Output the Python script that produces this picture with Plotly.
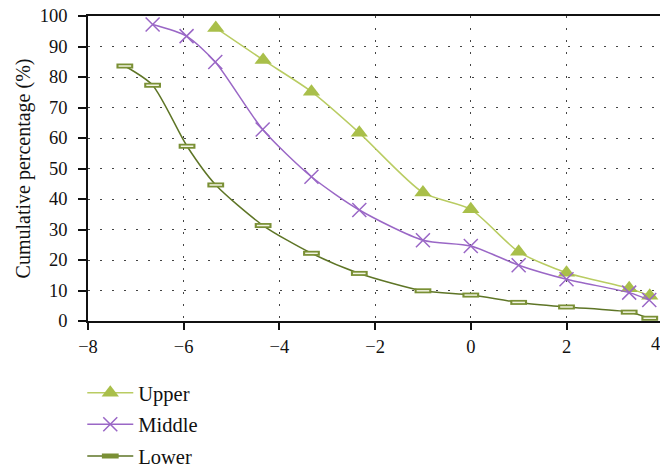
import plotly.graph_objects as go

# ---- data ----
upper_x = [-5.33, -4.34, -3.33, -2.33, -1.0, 0.0, 1.0, 2.0, 3.31, 3.74]
upper_y = [96.1, 85.6, 75.2, 61.7, 42.1, 36.6, 22.7, 15.8, 10.7, 8.3]

middle_x = [-6.65, -5.94, -5.34, -4.35, -3.33, -2.33, -1.0, 0.0, 1.0, 2.0, 3.31, 3.73]
middle_y = [97.2, 93.4, 84.9, 62.8, 47.3, 36.4, 26.5, 24.6, 18.3, 13.7, 9.3, 6.9]

lower_x = [-7.23, -6.65, -5.93, -5.33, -4.34, -3.33, -2.33, -1.0, 0.0, 1.0, 2.0, 3.31, 3.74]
lower_y = [83.6, 77.3, 57.3, 44.6, 31.3, 22.2, 15.6, 9.9, 8.5, 6.1, 4.6, 2.9, 0.9]

x_ticks = [-8, -6, -4, -2, 0, 2, 4]
y_ticks = [0, 10, 20, 30, 40, 50, 60, 70, 80, 90, 100]

FONT = "Liberation Serif"
C_UP_LINE = "#b9cc62"
C_UP_MK = "#a9bf4a"
C_MID = "#9a67c6"
C_LOW = "#5e7526"
C_LOW_MK = "#7a9035"

fig = go.Figure()

fig.add_trace(go.Scatter(
    x=upper_x, y=upper_y, name="Upper", mode="lines+markers",
    line=dict(color=C_UP_LINE, width=1.5, shape="spline", smoothing=0.7),
    marker=dict(symbol="triangle-up", size=15, color=C_UP_MK),
    legendgroup="u", cliponaxis=False,
))
fig.add_trace(go.Scatter(
    x=middle_x, y=middle_y, name="Middle", mode="lines+markers",
    line=dict(color=C_MID, width=1.5, shape="spline", smoothing=0.7),
    marker=dict(symbol="x-thin", size=14, line=dict(color=C_MID, width=1.5)),
    legendgroup="m", cliponaxis=False,
))
fig.add_trace(go.Scatter(
    x=lower_x, y=lower_y, name="Lower", mode="lines+markers",
    line=dict(color=C_LOW, width=1.5, shape="spline", smoothing=0.7),
    marker=dict(symbol="line-ew", size=12, line=dict(color=C_LOW_MK, width=5)),
    legendgroup="l", cliponaxis=False,
))
fig.add_trace(go.Scatter(
    x=lower_x, y=lower_y, mode="markers", showlegend=False, hoverinfo="skip",
    marker=dict(symbol="line-ew", size=9, line=dict(color="#f2f4e2", width=1.5)),
    cliponaxis=False,
))

fig.update_layout(
    width=660, height=468,
    margin=dict(l=88, r=0, t=16, b=147, autoexpand=False),
    paper_bgcolor="white", plot_bgcolor="white",
    font=dict(family=FONT, size=18, color="#111111"),
    showlegend=True,
    legend=dict(
        x=-0.01, xanchor="left", y=-0.17, yanchor="top",
        font=dict(family=FONT, size=20.5, color="#111111"),
        itemwidth=46, tracegroupgap=2, bgcolor="rgba(0,0,0,0)",
    ),
    xaxis=dict(
        range=[-8, -8 + 572 / 47.85], tickvals=x_ticks,
        ticktext=["\u22128", "\u22126", "\u22124", "\u22122", "0", "2", "4"],
        showline=True, linecolor="#111111", linewidth=1.5, mirror=True,
        ticks="outside", ticklen=7, tickcolor="#111111", tickwidth=1.5,
        showgrid=True, gridcolor="#444444", gridwidth=1, griddash="2px,10px",
        zeroline=False, ticklabelstandoff=1,
        tickfont=dict(family=FONT, size=18.5, color="#111111"),
    ),
    yaxis=dict(
        range=[0, 100], tickvals=y_ticks,
        showline=True, linecolor="#111111", linewidth=1.5,
        ticks="outside", ticklen=8, tickcolor="#111111", tickwidth=1.5,
        showgrid=True, gridcolor="#444444", gridwidth=1, griddash="2px,10px",
        zeroline=False, ticklabelstandoff=7,
        tickfont=dict(family=FONT, size=18.5, color="#111111"),
        title=dict(text="Cumulative percentage (%)", standoff=4,
                   font=dict(family=FONT, size=20, color="#111111")),
    ),
)

fig.add_annotation(
    xref="paper", yref="paper", x=(662.4 - 88) / 572, y=0,
    text="4", showarrow=False, yanchor="top", yshift=-11,
    font=dict(family=FONT, size=18.5, color="#111111"),
)

fig.write_html(
    "out.html",
    config={"displayModeBar": False},
    post_script="document.body.style.margin='0';document.body.style.overflow='hidden';",
)
